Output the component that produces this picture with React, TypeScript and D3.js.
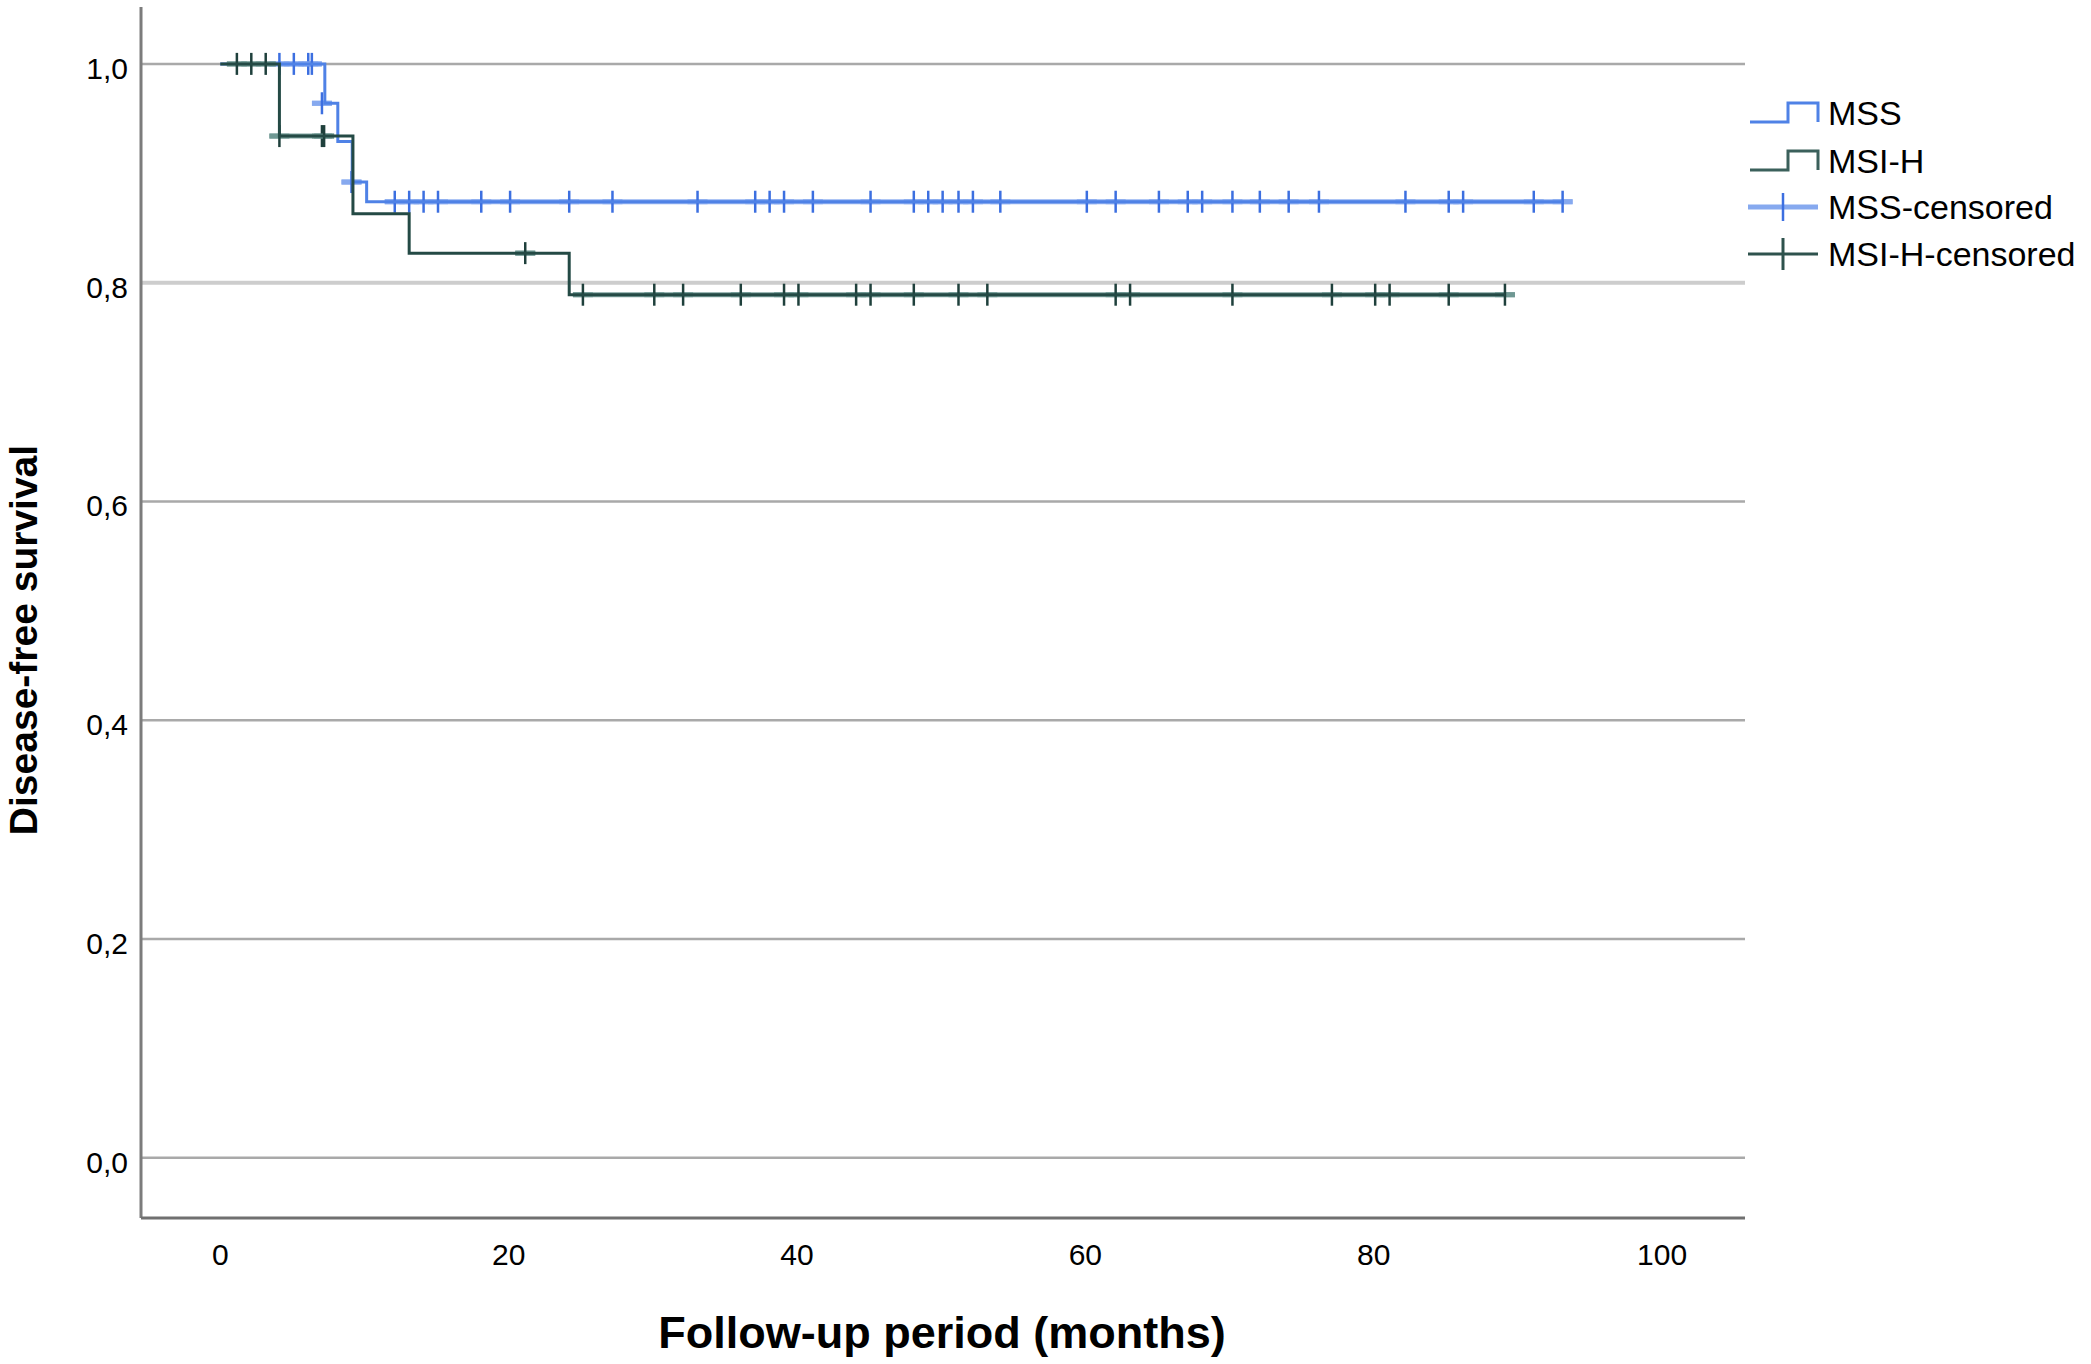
import React, { useEffect } from 'react';
import * as d3 from 'd3';

// ---------- data ----------
const xTicks = [0, 20, 40, 60, 80, 100];
const yTicks = [0, 0.2, 0.4, 0.6, 0.8, 1.0];
const yTickLabels = ['0,0', '0,2', '0,4', '0,6', '0,8', '1,0'];

const seriesNames = ['MSS', 'MSI-H'];
const legendLabels = ['MSS', 'MSI-H', 'MSS-censored', 'MSI-H-censored'];

// Kaplan-Meier step points (time, survival)
const mssTimes = [0, 7.25, 8.15, 9.15, 10.15, 93.1];
const mssSurv = [1.0, 0.964, 0.929, 0.892, 0.874, 0.874];
const msiTimes = [0, 4.1, 9.2, 13.1, 24.2, 89.1];
const msiSurv = [1.0, 0.934, 0.863, 0.827, 0.789, 0.789];

// censored observations
const mssCensTimes = [4.1, 5.1, 6.1, 6.35, 7.05, 9.1, 12.1, 13.1, 14.1, 15.1, 18.1, 20.1, 24.2, 27.2, 33.1, 37.1, 38.1, 39.1, 41.1, 45.1, 48.1, 49.1, 50.1, 51.2, 52.2, 54.1, 60.1, 62.1, 65.1, 67.1, 68.1, 70.2, 72.1, 74.1, 76.2, 82.2, 85.2, 86.2, 91.1, 93.1];
const mssCensSurv = [1.0, 1.0, 1.0, 1.0, 0.964, 0.892, 0.874, 0.874, 0.874, 0.874, 0.874, 0.874, 0.874, 0.874, 0.874, 0.874, 0.874, 0.874, 0.874, 0.874, 0.874, 0.874, 0.874, 0.874, 0.874, 0.874, 0.874, 0.874, 0.874, 0.874, 0.874, 0.874, 0.874, 0.874, 0.874, 0.874, 0.874, 0.874, 0.874, 0.874];
const msiCensTimes = [1.15, 2.15, 3.15, 4.1, 7.05, 7.2, 21.15, 25.15, 30.1, 32.1, 36.1, 39.1, 40.1, 44.1, 45.1, 48.1, 51.2, 53.2, 62.1, 63.1, 70.2, 77.1, 80.1, 81.1, 85.2, 89.1];
const msiCensSurv = [1.0, 1.0, 1.0, 0.934, 0.934, 0.934, 0.827, 0.789, 0.789, 0.789, 0.789, 0.789, 0.789, 0.789, 0.789, 0.789, 0.789, 0.789, 0.789, 0.789, 0.789, 0.789, 0.789, 0.789, 0.789, 0.789];

// ---------- styles ----------
const W = 2091;
const H = 1364;
const FONT = '"Liberation Sans", Arial, Helvetica, sans-serif';
const COLORS = {
  mss: '#4f82e6',
  mssLight: '#86a9ef',
  mssMark: '#3c6fe0',
  msi: '#244a45',
  msiLight: '#6f9893',
  msiMark: '#1f403c',
};

const x = d3.scaleLinear().domain([-5.5, 105.75]).range([141, 1745]);
const y = d3.scaleLinear().domain([-0.055, 1.052]).range([1218, 7]);

const stepLine = d3
  .line<[number, number]>()
  .x((d) => x(d[0]))
  .y((d) => y(d[1]))
  .curve(d3.curveStepAfter);

function zip(a: number[], b: number[]): [number, number][] {
  return a.map((v, i) => [v, b[i]] as [number, number]);
}

function sameLevelRuns(pts: [number, number][]): [number, number][][] {
  const runs: [number, number][][] = [];
  let cur: [number, number][] = [];
  pts.forEach((p) => {
    if (cur.length && cur[cur.length - 1][1] !== p[1]) {
      runs.push(cur);
      cur = [];
    }
    cur.push(p);
  });
  if (cur.length) runs.push(cur);
  return runs;
}

function Censored({ pts, light, mark }: { pts: [number, number][]; light: string; mark: string }) {
  const runs = sameLevelRuns(pts);
  return (
    <g>
      {runs.map((r, i) => (
        <line
          key={'r' + i}
          x1={x(r[0][0]) - 10}
          x2={x(r[r.length - 1][0]) + 10}
          y1={y(r[0][1])}
          y2={y(r[0][1])}
          stroke={light}
          strokeWidth={5}
          strokeOpacity={0.9}
        />
      ))}
      {pts.map((p, i) => (
        <g key={i}>
          <line x1={x(p[0]) - 10} x2={x(p[0]) + 10} y1={y(p[1])} y2={y(p[1])} stroke={light} strokeWidth={5} />
          <line x1={x(p[0])} x2={x(p[0])} y1={y(p[1]) - 11} y2={y(p[1]) + 11} stroke={mark} strokeWidth={2.5} />
        </g>
      ))}
    </g>
  );
}

export default function App() {
  useEffect(() => {
    document.body.style.margin = '0';
  }, []);

  const mssPts = zip(mssTimes, mssSurv);
  const msiPts = zip(msiTimes, msiSurv);
  const mssCens = zip(mssCensTimes, mssCensSurv);
  const msiCens = zip(msiCensTimes, msiCensSurv);

  const legendX0 = 1750;
  const legendX1 = 1818;
  const legendRowY = [113, 161, 207, 254];

  return (
    <svg width={W} height={H} style={{ display: 'block', background: '#fff' }} fontFamily={FONT}>
      <rect x={0} y={0} width={W} height={H} fill="#fff" />
      {/* gridlines */}
      {yTicks.map((t, i) => (
        <line
          key={'g' + i}
          x1={141}
          x2={1745}
          y1={y(t)}
          y2={y(t)}
          stroke={t === 0.8 ? '#cdcdcd' : '#a9a9a9'}
          strokeWidth={t === 0.8 ? 4 : 2.5}
        />
      ))}
      {/* axes */}
      <line x1={x.range()[0]} x2={x.range()[0]} y1={y.range()[1]} y2={y.range()[0]} stroke="#7c7c7c" strokeWidth={3} />
      <line x1={x.range()[0]} x2={x.range()[1]} y1={y.range()[0]} y2={y.range()[0]} stroke="#707070" strokeWidth={3} />

      {/* y tick labels */}
      {yTicks.map((t, i) => (
        <text key={'yl' + i} x={128} y={y(t) + 15} textAnchor="end" fontSize={30} fill="#000">
          {yTickLabels[i]}
        </text>
      ))}
      {/* x tick labels */}
      {xTicks.map((t, i) => (
        <text key={'xl' + i} x={x(t)} y={1265} textAnchor="middle" fontSize={30} fill="#000">
          {t}
        </text>
      ))}

      {/* axis titles */}
      <text x={942} y={1348} textAnchor="middle" fontSize={45} fontWeight="bold" fill="#000">
        Follow-up period (months)
      </text>
      <text
        transform={`translate(37, 640) rotate(-90)`}
        textAnchor="middle"
        fontSize={39}
        fontWeight="bold"
        fill="#000"
      >
        Disease-free survival
      </text>

      {/* censored overlays and curves */}
      <Censored pts={mssCens} light={COLORS.mssLight} mark={COLORS.mssMark} />
      <path d={stepLine(mssPts) || ''} fill="none" stroke={COLORS.mss} strokeWidth={3} />
      <Censored pts={msiCens} light={COLORS.msiLight} mark={COLORS.msiMark} />
      <path d={stepLine(msiPts) || ''} fill="none" stroke={COLORS.msi} strokeWidth={3} />

      {/* legend */}
      {seriesNames.map((s, i) => {
        const yy = legendRowY[i];
        const col = i === 0 ? COLORS.mss : '#3b605b';
        const mid = 1788;
        const d = `M${legendX0},${yy + 9}H${mid}V${yy - 10}H${legendX1}V${yy + 9}`;
        return <path key={'ls' + i} d={d} fill="none" stroke={col} strokeWidth={3} />;
      })}
      <g>
        <line x1={1748} x2={legendX1} y1={legendRowY[2]} y2={legendRowY[2]} stroke={COLORS.mssLight} strokeWidth={5} />
        <line x1={1783} x2={1783} y1={legendRowY[2] - 14} y2={legendRowY[2] + 14} stroke={COLORS.mssMark} strokeWidth={2.5} />
        <line x1={1748} x2={legendX1} y1={legendRowY[3]} y2={legendRowY[3]} stroke="#2e524d" strokeWidth={3} />
        <line x1={1783} x2={1783} y1={legendRowY[3] - 16} y2={legendRowY[3] + 16} stroke="#2e524d" strokeWidth={3} />
      </g>
      {legendLabels.map((l, i) => (
        <text key={'lt' + i} x={1828} y={legendRowY[i] + 12} fontSize={34} fill="#000">
          {l}
        </text>
      ))}
    </svg>
  );
}
